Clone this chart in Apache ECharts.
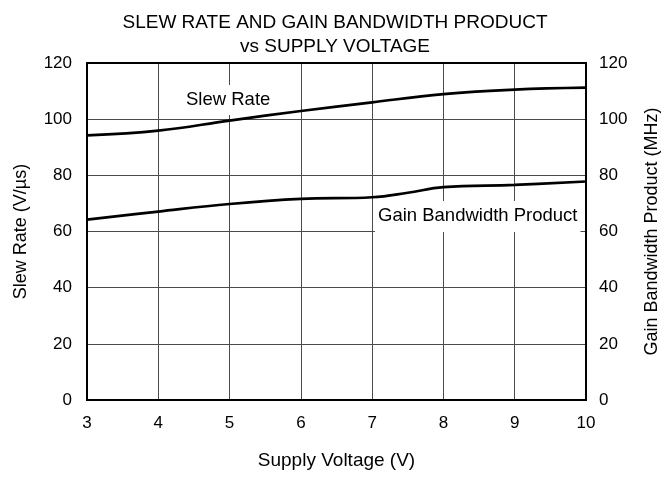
<!DOCTYPE html>
<html><head><meta charset="utf-8">
<script src="https://cdn.jsdelivr.net/npm/echarts@6/dist/echarts.min.js"></script>
<style>html,body{margin:0;padding:0;background:#fff}#c{width:670px;height:477px}</style>
</head><body><div id="c"></div>
<script>
const xTicks = [3, 4, 5, 6, 7, 8, 9, 10];
const yTicks = [0, 20, 40, 60, 80, 100, 120];
const slewX = [3, 4, 5, 6, 7, 8, 9, 10];
const slewY = [94.2, 95.9, 99.5, 102.9, 106.0, 108.9, 110.5, 111.2];
const gbwX = [3, 4, 5, 6, 7, 7.5, 8, 9, 10];
const gbwY = [64.2, 67.1, 69.8, 71.6, 72.2, 73.8, 75.8, 76.6, 77.8];
const titleLines = ['SLEW RATE AND GAIN BANDWIDTH PRODUCT', 'vs SUPPLY VOLTAGE'];

const F = 'Liberation Sans, Arial, sans-serif';
const chart = echarts.init(document.getElementById('c'));
const pair = (xs, ys) => xs.map((x, i) => [x, ys[i]]);
chart.setOption({
  animation: false,
  title: { text: titleLines.join('\n'), left: 'center', top: 6,
    textStyle: { fontFamily: F, fontSize: 19, fontWeight: 'normal', color: '#000', lineHeight: 24 } },
  grid: { left: 87, right: 84, top: 63, bottom: 77, show: true, borderColor: '#000', borderWidth: 2, z: 3 },
  xAxis: { type: 'value', min: xTicks[0], max: xTicks[xTicks.length - 1], interval: 1,
    name: 'Supply Voltage (V)', nameLocation: 'middle', nameGap: 51,
    nameTextStyle: { fontFamily: F, fontSize: 19, color: '#000' },
    axisLine: { show: true, lineStyle: { color: '#000', width: 2 } }, axisTick: { show: false },
    axisLabel: { fontFamily: F, fontSize: 17, color: '#000', margin: 15 },
    splitLine: { show: true, lineStyle: { color: '#4a4a4a', width: 1 } } },
  yAxis: [
    { type: 'value', min: 0, max: 120, interval: 20, position: 'left',
      name: 'Slew Rate (V/µs)', nameLocation: 'middle', nameGap: 57,
      nameTextStyle: { fontFamily: F, fontSize: 18, color: '#000' },
      axisLine: { show: true, lineStyle: { color: '#000', width: 2 } }, axisTick: { show: false },
      axisLabel: { fontFamily: F, fontSize: 17, color: '#000', margin: 15 },
      splitLine: { show: true, lineStyle: { color: '#4a4a4a', width: 1 } } },
    { type: 'value', min: 0, max: 120, interval: 20, position: 'right',
      name: 'Gain Bandwidth Product (MHz)', nameLocation: 'middle', nameGap: 57, nameRotate: 90,
      nameTextStyle: { fontFamily: F, fontSize: 18, color: '#000' },
      axisLine: { show: true, lineStyle: { color: '#000', width: 2 } }, axisTick: { show: false },
      axisLabel: { fontFamily: F, fontSize: 17, color: '#000', margin: 13 },
      splitLine: { show: false } }
  ],
  series: [
    { type: 'line', name: 'Slew Rate', data: pair(slewX, slewY), smooth: 0.4, symbol: 'none', z: 5,
      lineStyle: { color: '#000', width: 2.7 } },
    { type: 'line', name: 'Gain Bandwidth Product', yAxisIndex: 1, data: pair(gbwX, gbwY), smooth: 0.4, symbol: 'none', z: 5,
      lineStyle: { color: '#000', width: 2.7 } }
  ],
  graphic: [
    { type: 'text', left: 183, top: 85, z: 1,
      style: { text: 'Slew Rate', font: '18.5px ' + F, fill: '#000', backgroundColor: '#fff', padding: [5, 3, 6, 3] } },
    { type: 'text', left: 375, top: 201, z: 1,
      style: { text: 'Gain Bandwidth Product', font: '18.5px ' + F, fill: '#000', backgroundColor: '#fff', padding: [5, 3, 7, 3] } }
  ]
});
</script></body></html>
